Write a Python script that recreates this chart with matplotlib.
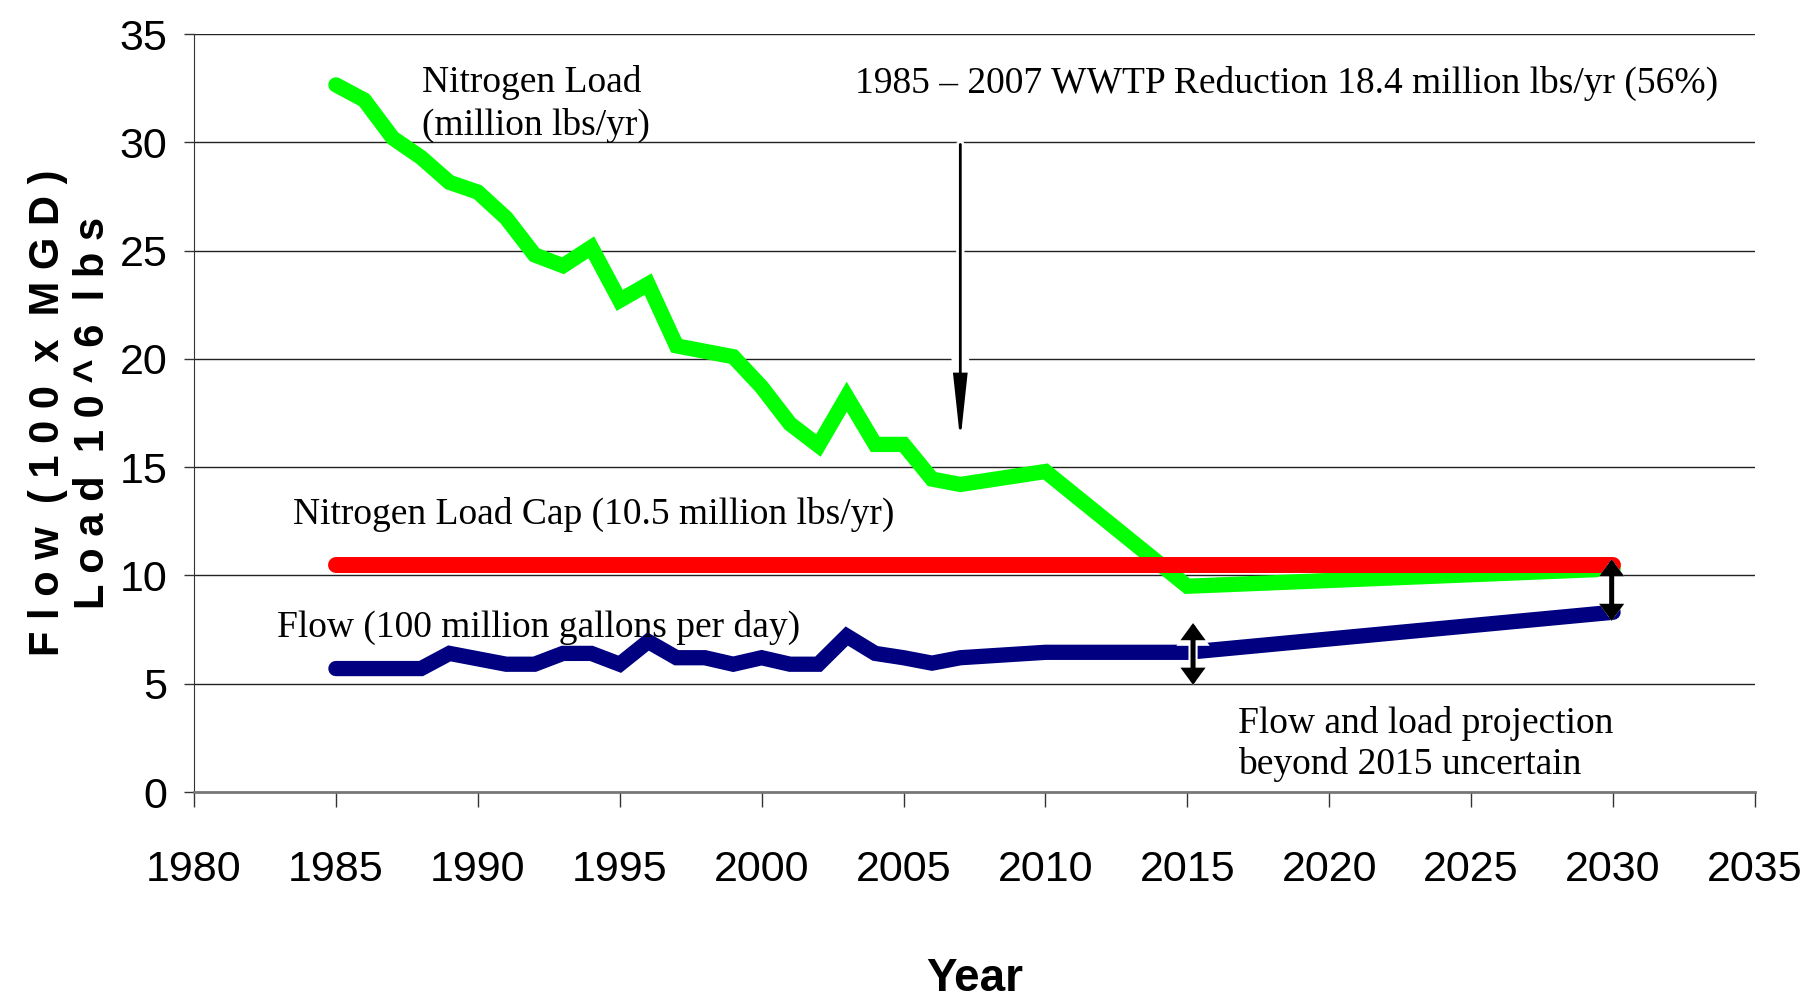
import matplotlib
matplotlib.use("Agg")
import matplotlib.pyplot as plt

# ---- data ----
load_years = [1985, 1986, 1987, 1988, 1989, 1990, 1991, 1992, 1993, 1994, 1995, 1996,
              1997, 1998, 1999, 2000, 2001, 2002, 2003, 2004, 2005, 2006, 2007, 2010,
              2015, 2030]
nitrogen_load = [32.65, 31.95, 30.2, 29.3, 28.15, 27.7, 26.5, 24.8, 24.3, 25.15, 22.7, 23.45,
                 20.6, 20.35, 20.1, 18.7, 17.0, 16.0, 18.25, 16.05, 16.05, 14.45, 14.2, 14.8,
                 9.5, 10.3]
flow_years = load_years
flow = [5.7, 5.7, 5.7, 5.7, 6.4, 6.15, 5.9, 5.9, 6.4, 6.4, 5.9, 6.95,
        6.2, 6.2, 5.9, 6.2, 5.9, 5.9, 7.2, 6.4, 6.2, 5.95, 6.2, 6.45,
        6.45, 8.3]
cap_years = [1985, 2030]
cap_value = [10.5, 10.5]
x_ticks = [1980, 1985, 1990, 1995, 2000, 2005, 2010, 2015, 2020, 2025, 2030, 2035]
y_ticks = [0, 5, 10, 15, 20, 25, 30, 35]

SERIF = ["Liberation Serif", "DejaVu Serif"]
NARROW = ["Liberation Sans Narrow", "Liberation Sans", "DejaVu Sans"]
SANS = ["Liberation Sans", "DejaVu Sans"]

fig = plt.figure(figsize=(18.12, 10.02), dpi=100)
ax = fig.add_axes([194 / 1812, 1 - 792 / 1002, (1755 - 194) / 1812, (792 - 34) / 1002])

ax.set_xlim(1980, 2035)
ax.set_ylim(0, 35)
ax.set_xticks(x_ticks)
ax.set_yticks(y_ticks)
ax.set_xticklabels([str(v) for v in x_ticks], family=NARROW, fontsize=31)
ax.set_yticklabels([str(v) for v in y_ticks], family=NARROW, fontsize=31)
ax.tick_params(axis="x", length=10.8, width=1, color="#333333", pad=31)
ax.tick_params(axis="y", length=7.2, width=1, color="#333333", pad=12)

for y in y_ticks[1:]:
    ax.axhline(y, color="#222222", lw=1.0, zorder=0)
ax.spines["top"].set_visible(False)
ax.spines["right"].set_visible(False)
ax.spines["left"].set_color("#333333")
ax.spines["bottom"].set_color("#777777")
ax.spines["bottom"].set_linewidth(2)

# series
ax.plot(load_years, nitrogen_load, color="#00FF00", lw=11, solid_capstyle="round",
        solid_joinstyle="miter", zorder=3)
ax.plot(cap_years, cap_value, color="#FF0000", lw=11.5, solid_capstyle="round", zorder=4)
ax.plot(flow_years, flow, color="#000080", lw=11, solid_capstyle="round",
        solid_joinstyle="miter", zorder=5)


def arrow(x0, y0, x1, y1, style, lw, halo):
    for color, width, z in (("white", lw + halo, 6), ("black", lw, 7)):
        ax.annotate("", xy=(x1, y1), xytext=(x0, y0),
                    arrowprops=dict(arrowstyle=style, color=color, lw=width,
                                    shrinkA=0, shrinkB=0, mutation_scale=10,
                                    joinstyle="miter"),
                    zorder=z)


arrow(2007, 29.9, 2007, 16.2, "-|>,head_length=3.9,head_width=0.42", 2.0, 4)
arrow(2015.2, 7.8, 2015.2, 4.95, "<|-|>,head_length=0.75,head_width=0.55", 3.6, 3)
arrow(2029.95, 10.75, 2029.95, 7.9, "<|-|>,head_length=0.75,head_width=0.55", 3.6, 3)

# annotations
fs = 27
ax.text(1988.03, 32.3, "Nitrogen Load", family=SERIF, fontsize=fs, va="baseline", ha="left")
ax.text(1988.03, 30.33, "(million lbs/yr)", family=SERIF, fontsize=fs, va="baseline", ha="left")
ax.text(2003.29, 32.3, "1985 \u2013 2007 WWTP Reduction 18.4 million lbs/yr (56%)",
        family=SERIF, fontsize=fs, va="baseline", ha="left")
ax.text(1983.5, 12.37, "Nitrogen Load Cap (10.5 million lbs/yr)", family=SERIF,
        fontsize=fs, va="baseline", ha="left")
ax.text(1982.92, 7.16, "Flow (100 million gallons per day)", family=SERIF,
        fontsize=fs, va="baseline", ha="left", zorder=8)
ax.text(2016.79, 2.72, "Flow and load projection", family=SERIF, fontsize=fs,
        va="baseline", ha="left")
ax.text(2016.79, 0.83, "beyond 2015 uncertain", family=SERIF, fontsize=fs,
        va="baseline", ha="left")

ax.set_xlabel("Year", family=NARROW, fontsize=33, fontweight="bold", labelpad=48)
ax.set_ylabel("F l o w  ( 1 0 0  x  M G D )\nL o a d  1 0 ^ 6  l b s", family=SANS,
              fontsize=30, fontweight="bold", linespacing=1.15)
ax.yaxis.set_label_coords(-0.052, 0.5)

fig.savefig("out.png", dpi=100)
